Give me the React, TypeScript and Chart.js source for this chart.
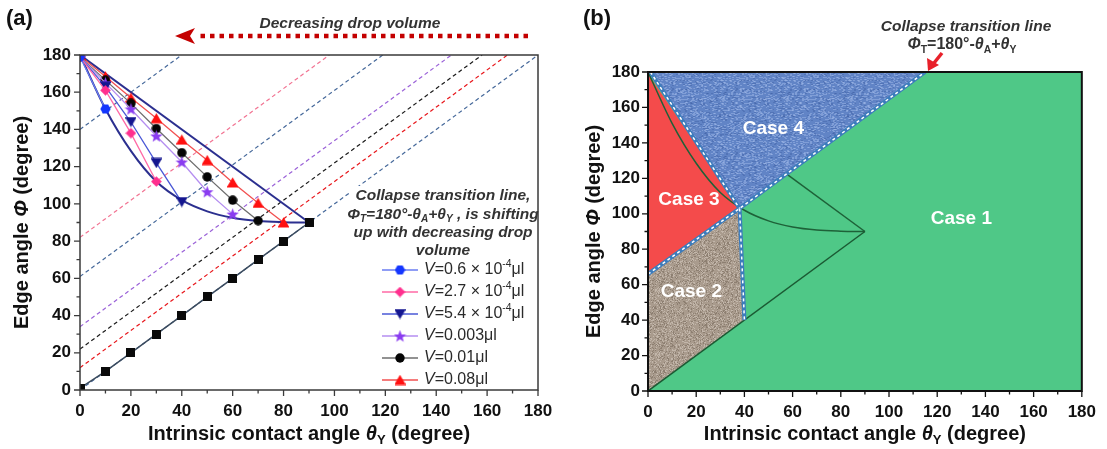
import React, { useEffect, useRef } from 'react';
import { Chart, registerables } from 'chart.js';

Chart.register(...registerables);

const FONT = '"Liberation Sans", Arial, sans-serif';

// ---------- Panel (a): edge angle vs intrinsic contact angle ----------
const thetaSteps = [0, 10, 20, 30, 40, 50, 60, 70, 80, 90];
const phiV06 = [179, 151];
const phiV27 = [179, 161, 138, 112];
const phiV54 = [179, 163, 144, 122, 101];
const phiV003 = [179, 165, 151, 136.5, 122.5, 106.5, 94.5];
const phiV001 = [179, 166.5, 154, 140.5, 127.5, 114.5, 102, 91];
const phiV008 = [179.5, 168.5, 157, 146, 134.5, 123.5, 111.5, 100.5, 90];
const phiPinned = [1, 10, 20, 30, 40, 50, 60, 70, 80, 90];

const lowerEnvelope = [180, 151, 128.5, 112, 102, 96, 92.5, 90.8, 90.2, 90];
const upperEnvelopeTheta = [0, 90];
const upperEnvelopePhi = [180, 90];

const seriesLabels = [
  '*V*=0.6 × 10^{-4}μl',
  '*V*=2.7 × 10^{-4}μl',
  '*V*=5.4 × 10^{-4}μl',
  '*V*=0.003μl',
  '*V*=0.01μl',
  '*V*=0.08μl',
];
const seriesPhi = [phiV06, phiV27, phiV54, phiV003, phiV001, phiV008];
const seriesMarkers = ['hexagon', 'diamond', 'triangleDown', 'star', 'circle', 'triangle'];
const seriesMarkerColors = ['#1436ff', '#ff2f8e', '#14168f', '#8a3cf0', '#050505', '#ff1010'];
const seriesLineColors = ['#6a7cf2', '#ff6aa6', '#4a58d6', '#b58ef0', '#6e6e6e', '#f25050'];

// collapse transition lines Φ = θ + c for each drop volume
const collapseIntercepts = [140, 82, 61, 34, 22, 12, 0];
const collapseColors = ['#45689a', '#f27392', '#45689a', '#9b62d8', '#1a1a1a', '#e8161b', '#45689a'];

const legendTitle = [
  '*Collapse transition line,*',
  '*Φ_{T}=180°-θ_{A}+θ_{Y} , is shifting*',
  '*up with decreasing drop*',
  '*volume*',
];

// ---------- Panel (b): regime map ----------
const case1Region: [number, number][] = [[0, 0], [180, 0], [180, 180], [0, 180]];
const case4Region: [number, number][] = [[0, 180], [115, 180], [38, 103]];
const case3Region: [number, number][] = [[0, 179], [38, 103], [0, 66]];
const case2Region: [number, number][] = [[0, 66], [38, 103], [40, 40], [0, 0]];
const regionColors = ['#4fc887', '#6184c6', '#f44b4b', '#a99b8d'];
// surface finish of each region: none, woven, none, grainy
const regionTextures = ['', 'woven', '', 'grain'];

const collapseBoundary: [number, number][] = [[0, 66], [38, 103], [115, 180]];
const case34Boundary: [number, number][] = [[1, 180], [38, 103]];
const case12Boundary: [number, number][] = [[38, 103], [40, 40]];
const pinnedLine: [number, number][] = [[0, 0], [90, 90]];
const upperEnvelopeVisible: [number, number][] = [[58, 122], [90, 90]];

const caseNames = ['Case 1', 'Case 2', 'Case 3', 'Case 4'];
const caseTheta = [130, 18, 17, 52];
const casePhi = [97, 56, 108, 148];

// ---------- helpers ----------
type Run = { t: string; i: boolean; s?: 'sub' | 'sup' };

function parseRich(src: string): Run[] {
  const runs: Run[] = [];
  let italic = false;
  let buf = '';
  let k = 0;
  const flush = () => {
    if (buf) runs.push({ t: buf, i: italic });
    buf = '';
  };
  while (k < src.length) {
    const ch = src[k];
    if (ch === '*') {
      flush();
      italic = !italic;
      k++;
      continue;
    }
    if ((ch === '_' || ch === '^') && src[k + 1] === '{') {
      flush();
      const end = src.indexOf('}', k);
      runs.push({ t: src.slice(k + 2, end), i: italic, s: ch === '_' ? 'sub' : 'sup' });
      k = end + 1;
      continue;
    }
    buf += ch;
    k++;
  }
  flush();
  return runs;
}

function runFont(r: Run, size: number, weight: string) {
  const sz = r.s ? size * 0.65 : size;
  return `${r.i ? 'italic ' : ''}${weight} ${sz}px ${FONT}`;
}

function drawRich(
  ctx: CanvasRenderingContext2D,
  src: string,
  x: number,
  y: number,
  size: number,
  weight: string,
  color: string,
  align: 'left' | 'center' = 'left'
) {
  const runs = parseRich(src);
  let total = 0;
  runs.forEach((r) => {
    ctx.font = runFont(r, size, weight);
    total += ctx.measureText(r.t).width;
  });
  let cx = align === 'center' ? x - total / 2 : x;
  ctx.save();
  ctx.fillStyle = color;
  ctx.textBaseline = 'middle';
  ctx.textAlign = 'left';
  runs.forEach((r) => {
    ctx.font = runFont(r, size, weight);
    const dy = r.s === 'sub' ? size * 0.3 : r.s === 'sup' ? -size * 0.38 : 0;
    ctx.fillText(r.t, cx, y + dy);
    cx += ctx.measureText(r.t).width;
  });
  ctx.restore();
}

function makeMarker(shape: string, color: string): HTMLCanvasElement {
  const size = shape === 'star' ? 13 : shape === 'circle' ? 10 : shape === 'square' ? 9 : 11;
  const c = document.createElement('canvas');
  c.width = size;
  c.height = size;
  const g = c.getContext('2d')!;
  const r = size / 2;
  g.fillStyle = color;
  g.beginPath();
  const poly = (n: number, rot: number, rad: number, cx = r, cy = r) => {
    for (let k = 0; k < n; k++) {
      const a = rot + (k * 2 * Math.PI) / n;
      const px = cx + rad * Math.cos(a);
      const py = cy + rad * Math.sin(a);
      if (k) g.lineTo(px, py);
      else g.moveTo(px, py);
    }
    g.closePath();
  };
  if (shape === 'hexagon') poly(6, 0, r - 0.3);
  else if (shape === 'diamond') poly(4, -Math.PI / 2, r - 0.2);
  else if (shape === 'triangle') poly(3, -Math.PI / 2, r * 1.25, r, r + r * 0.28);
  else if (shape === 'triangleDown') poly(3, Math.PI / 2, r * 1.25, r, r - r * 0.28);
  else if (shape === 'circle') g.arc(r, r, r - 0.3, 0, Math.PI * 2);
  else if (shape === 'square') g.rect(0, 0, size, size);
  else if (shape === 'star') {
    for (let k = 0; k < 10; k++) {
      const a = -Math.PI / 2 + (k * Math.PI) / 5;
      const rad = k % 2 ? r * 0.42 : r;
      const px = r + rad * Math.cos(a);
      const py = r + 0.6 + rad * Math.sin(a);
      if (k) g.lineTo(px, py);
      else g.moveTo(px, py);
    }
    g.closePath();
  }
  g.fill();
  return c;
}

// integer hash used to scatter texture flecks in a repeatable way
function hash(i: number, j: number) {
  let h = (i * 374761393 + j * 668265263) | 0;
  h = Math.imul(h ^ (h >>> 13), 1274126177);
  return ((h ^ (h >>> 16)) >>> 0) / 4294967295;
}

function makeTexture(ctx: CanvasRenderingContext2D, kind: string, base: string) {
  const size = 64;
  const c = document.createElement('canvas');
  c.width = size;
  c.height = size;
  const g = c.getContext('2d')!;
  g.fillStyle = base;
  g.fillRect(0, 0, size, size);
  for (let j = 0; j < size; j++) {
    for (let i = 0; i < size; i++) {
      const h = hash(i, j);
      if (kind === 'woven') {
        if (h > 0.84) {
          g.fillStyle = 'rgba(175,198,240,0.4)';
          g.fillRect(i, j, 2, 1);
        } else if (h < 0.08) {
          g.fillStyle = 'rgba(50,80,150,0.3)';
          g.fillRect(i, j, 2, 1);
        }
      } else {
        if (h > 0.8) {
          g.fillStyle = 'rgba(220,210,200,0.5)';
          g.fillRect(i, j, 1, 1);
        } else if (h < 0.18) {
          g.fillStyle = 'rgba(100,85,72,0.4)';
          g.fillRect(i, j, 1, 1);
        }
      }
    }
  }
  return ctx.createPattern(c, 'repeat')!;
}

function linearAxis(pad: number, fitSize: number, horizontal: boolean) {
  return {
    type: 'linear' as const,
    min: 0,
    max: 180,
    grid: { display: false, drawTicks: false },
    border: { display: false },
    title: { display: false },
    ticks: {
      stepSize: 20,
      padding: pad,
      autoSkip: false,
      maxRotation: 0,
      color: '#111',
      font: { family: FONT, size: 17, weight: 'bold' as const },
    },
    afterFit(scale: any) {
      if (horizontal) scale.height = fitSize;
      else scale.width = fitSize;
    },
  };
}

function drawFrameAndTicks(chart: any, color: string, width: number) {
  const { ctx, chartArea: a, scales } = chart;
  const { x, y } = scales;
  ctx.save();
  ctx.strokeStyle = color;
  ctx.lineWidth = width;
  ctx.strokeRect(a.left, a.top, a.right - a.left, a.bottom - a.top);
  ctx.lineWidth = 1.3;
  ctx.beginPath();
  for (let v = 0; v <= 180; v += 10) {
    const len = v % 20 === 0 ? 6 : 3.5;
    const px = x.getPixelForValue(v);
    ctx.moveTo(px, a.bottom);
    ctx.lineTo(px, a.bottom + len);
    const py = y.getPixelForValue(v);
    ctx.moveTo(a.left, py);
    ctx.lineTo(a.left - len, py);
  }
  ctx.stroke();
  ctx.restore();
}

function drawAxisTitles(chart: any, yTitleX: number, xTitleY: number) {
  const { ctx, chartArea: a } = chart;
  const cx = (a.left + a.right) / 2;
  const cy = (a.top + a.bottom) / 2;
  drawRich(ctx, 'Intrinsic contact angle *θ*_{Y} (degree)', cx, xTitleY, 20, 'bold', '#111', 'center');
  ctx.save();
  ctx.translate(yTitleX, cy);
  ctx.rotate(-Math.PI / 2);
  drawRich(ctx, 'Edge angle *Φ* (degree)', 0, 0, 20, 'bold', '#111', 'center');
  ctx.restore();
}

const pts = (xs: number[], ys: number[]) => ys.map((v, k) => ({ x: xs[k], y: v }));
const pairPts = (arr: [number, number][]) => arr.map(([t, p]) => ({ x: t, y: p }));

function PanelA() {
  const ref = useRef<HTMLCanvasElement>(null);
  useEffect(() => {
    const markers = seriesMarkers.map((m, k) => makeMarker(m, seriesMarkerColors[k]));
    const squareMarker = makeMarker('square', '#0a0a0a');

    const datasets: any[] = [];
    seriesPhi.forEach((phi, k) => {
      datasets.push({
        label: seriesLabels[k],
        data: pts(thetaSteps, phi),
        showLine: true,
        borderColor: seriesLineColors[k],
        borderWidth: 1.3,
        pointStyle: markers[k],
        pointRadius: 5,
        order: 1,
      });
    });
    datasets.push({
      label: 'pinned',
      data: pts(thetaSteps, phiPinned),
      showLine: true,
      borderColor: '#3b4b5e',
      borderWidth: 1.5,
      pointStyle: squareMarker,
      pointRadius: 5,
      order: 0,
    });
    datasets.push({
      label: 'lower envelope',
      data: pts(thetaSteps, lowerEnvelope),
      showLine: true,
      cubicInterpolationMode: 'monotone',
      borderColor: '#2b2f8f',
      borderWidth: 2,
      pointRadius: 0,
      order: 2,
    });
    datasets.push({
      label: 'upper envelope',
      data: pts(upperEnvelopeTheta, upperEnvelopePhi),
      showLine: true,
      borderColor: '#2b2f8f',
      borderWidth: 2,
      pointRadius: 0,
      order: 2,
    });
    collapseIntercepts.forEach((c, k) => {
      datasets.push({
        label: `collapse ${c}`,
        data: [
          { x: 0, y: c },
          { x: 180 - c, y: 180 },
        ],
        showLine: true,
        borderColor: collapseColors[k],
        borderWidth: 1.2,
        borderDash: [4, 3],
        pointRadius: 0,
        order: 3,
      });
    });

    const decor = {
      id: 'panelADecor',
      afterDraw(chart: any) {
        const { ctx, chartArea: a } = chart;
        // legend box
        ctx.save();
        ctx.fillStyle = '#ffffff';
        ctx.fillRect(a.right - 188, 186, 187.5, a.bottom - 186.5);
        ctx.restore();
        legendTitle.forEach((line, k) => {
          drawRich(ctx, line, 443, 196 + k * 18.3, 15.5, 'bold', '#333', 'center');
        });
        seriesLabels.forEach((lab, k) => {
          const ly = 270 + k * 22;
          ctx.save();
          ctx.strokeStyle = seriesLineColors[k];
          ctx.lineWidth = 1.3;
          ctx.beginPath();
          ctx.moveTo(382, ly);
          ctx.lineTo(418, ly);
          ctx.stroke();
          const m = markers[k];
          ctx.drawImage(m, 400 - m.width / 2, ly - m.height / 2);
          ctx.restore();
          drawRich(ctx, lab, 424, ly, 16, 'normal', '#2a2a2a', 'left');
        });

        drawFrameAndTicks(chart, '#3a3a3a', 1.5);
        drawAxisTitles(chart, 22, 434);

        // panel letter
        ctx.save();
        ctx.font = `bold 22px ${FONT}`;
        ctx.fillStyle = '#111';
        ctx.textBaseline = 'middle';
        ctx.fillText('(a)', 6, 19);
        ctx.restore();

        // decreasing-volume arrow
        drawRich(ctx, '*Decreasing drop volume*', 350, 24, 15.5, 'bold', '#333', 'center');
        ctx.save();
        ctx.strokeStyle = '#c40000';
        ctx.fillStyle = '#c40000';
        ctx.lineWidth = 4.5;
        ctx.setLineDash([4.5, 5]);
        ctx.beginPath();
        ctx.moveTo(528, 36);
        ctx.lineTo(197, 36);
        ctx.stroke();
        ctx.setLineDash([]);
        ctx.beginPath();
        ctx.moveTo(175, 36);
        ctx.lineTo(195, 28);
        ctx.lineTo(190, 36);
        ctx.lineTo(195, 44);
        ctx.closePath();
        ctx.fill();
        ctx.restore();
      },
    };

    const chart = new Chart(ref.current!, {
      type: 'scatter',
      data: { datasets },
      options: {
        animation: false,
        responsive: false,
        devicePixelRatio: 1,
        events: [],
        layout: { padding: { left: 0, right: 37, top: 55, bottom: 0 } },
        plugins: { legend: { display: false }, tooltip: { enabled: false } },
        scales: {
          x: linearAxis(11, 59, true),
          y: linearAxis(9, 80, false),
        },
      } as any,
      plugins: [decor],
    });
    return () => chart.destroy();
  }, []);
  return (
    <canvas
      ref={ref}
      width={575}
      height={449}
      style={{ position: 'absolute', left: 0, top: 0, width: 575, height: 449 }}
    />
  );
}

function PanelB() {
  const ref = useRef<HTMLCanvasElement>(null);
  useEffect(() => {
    const regions = [case1Region, case4Region, case3Region, case2Region];
    const datasets: any[] = [
      {
        label: 'pinned line',
        data: pairPts(pinnedLine),
        showLine: true,
        borderColor: '#1b5a33',
        borderWidth: 1.5,
        pointRadius: 0,
        order: 2,
      },
      {
        label: 'lower envelope',
        data: pts(thetaSteps, lowerEnvelope),
        showLine: true,
        cubicInterpolationMode: 'monotone',
        borderColor: '#1e6138',
        borderWidth: 1.5,
        pointRadius: 0,
        order: 2,
      },
      {
        label: 'upper envelope',
        data: pairPts(upperEnvelopeVisible),
        showLine: true,
        borderColor: '#1e6138',
        borderWidth: 1.5,
        pointRadius: 0,
        order: 2,
      },
    ];
    [collapseBoundary, case34Boundary, case12Boundary].forEach((b, k) => {
      datasets.push({
        label: `boundary ${k}`,
        data: pairPts(b),
        showLine: true,
        borderColor: '#3c7cbc',
        borderWidth: 4,
        pointRadius: 0,
        order: 1,
      });
      datasets.push({
        label: `boundary dash ${k}`,
        data: pairPts(b),
        showLine: true,
        borderColor: '#ffffff',
        borderWidth: 1.5,
        borderDash: [3, 3],
        pointRadius: 0,
        order: 0,
      });
    });

    const decor = {
      id: 'panelBDecor',
      beforeDatasetsDraw(chart: any) {
        const { ctx, scales } = chart;
        const { x, y } = scales;
        ctx.save();
        regions.forEach((poly, k) => {
          ctx.beginPath();
          poly.forEach(([t, p], j) => {
            const px = x.getPixelForValue(t);
            const py = y.getPixelForValue(p);
            if (j) ctx.lineTo(px, py);
            else ctx.moveTo(px, py);
          });
          ctx.closePath();
          ctx.fillStyle = regionTextures[k]
            ? makeTexture(ctx, regionTextures[k], regionColors[k])
            : regionColors[k];
          ctx.fill();
        });
        ctx.restore();
      },
      afterDraw(chart: any) {
        const { ctx, scales } = chart;
        const { x, y } = scales;
        ctx.save();
        ctx.font = `bold 19px ${FONT}`;
        ctx.fillStyle = '#ffffff';
        ctx.textAlign = 'center';
        ctx.textBaseline = 'middle';
        caseNames.forEach((n, k) => {
          ctx.fillText(n, x.getPixelForValue(caseTheta[k]), y.getPixelForValue(casePhi[k]));
        });
        ctx.restore();

        drawFrameAndTicks(chart, '#111', 2);
        drawAxisTitles(chart, 19, 434);

        ctx.save();
        ctx.font = `bold 22px ${FONT}`;
        ctx.fillStyle = '#111';
        ctx.textBaseline = 'middle';
        ctx.fillText('(b)', 8, 19);
        ctx.restore();

        drawRich(ctx, '*Collapse transition line*', 391, 27, 15.5, 'bold', '#333', 'center');
        drawRich(ctx, '*Φ*_{T}=180°-*θ*_{A}+*θ*_{Y}', 387, 45, 16, 'bold', '#333', 'center');

        // pointer to the collapse line
        ctx.save();
        ctx.strokeStyle = '#e8202a';
        ctx.fillStyle = '#e8202a';
        ctx.lineWidth = 3.5;
        ctx.beginPath();
        ctx.moveTo(367, 53);
        ctx.lineTo(359, 63);
        ctx.stroke();
        ctx.beginPath();
        ctx.moveTo(353, 71);
        ctx.lineTo(352, 58);
        ctx.lineTo(364, 65);
        ctx.closePath();
        ctx.fill();
        ctx.restore();
      },
    };

    const chart = new Chart(ref.current!, {
      type: 'scatter',
      data: { datasets },
      options: {
        animation: false,
        responsive: false,
        devicePixelRatio: 1,
        events: [],
        layout: { padding: { left: 0, right: 19, top: 72, bottom: 0 } },
        plugins: { legend: { display: false }, tooltip: { enabled: false } },
        scales: {
          x: linearAxis(11, 58, true),
          y: linearAxis(8, 73, false),
        },
      } as any,
      plugins: [decor],
    });
    return () => chart.destroy();
  }, []);
  return (
    <canvas
      ref={ref}
      width={532}
      height={449}
      style={{ position: 'absolute', left: 575, top: 0, width: 532, height: 449 }}
    />
  );
}

export default function App() {
  return (
    <div
      style={{
        position: 'fixed',
        left: 0,
        top: 0,
        width: 1107,
        height: 449,
        background: '#ffffff',
        overflow: 'hidden',
      }}
    >
      <PanelA />
      <PanelB />
    </div>
  );
}
